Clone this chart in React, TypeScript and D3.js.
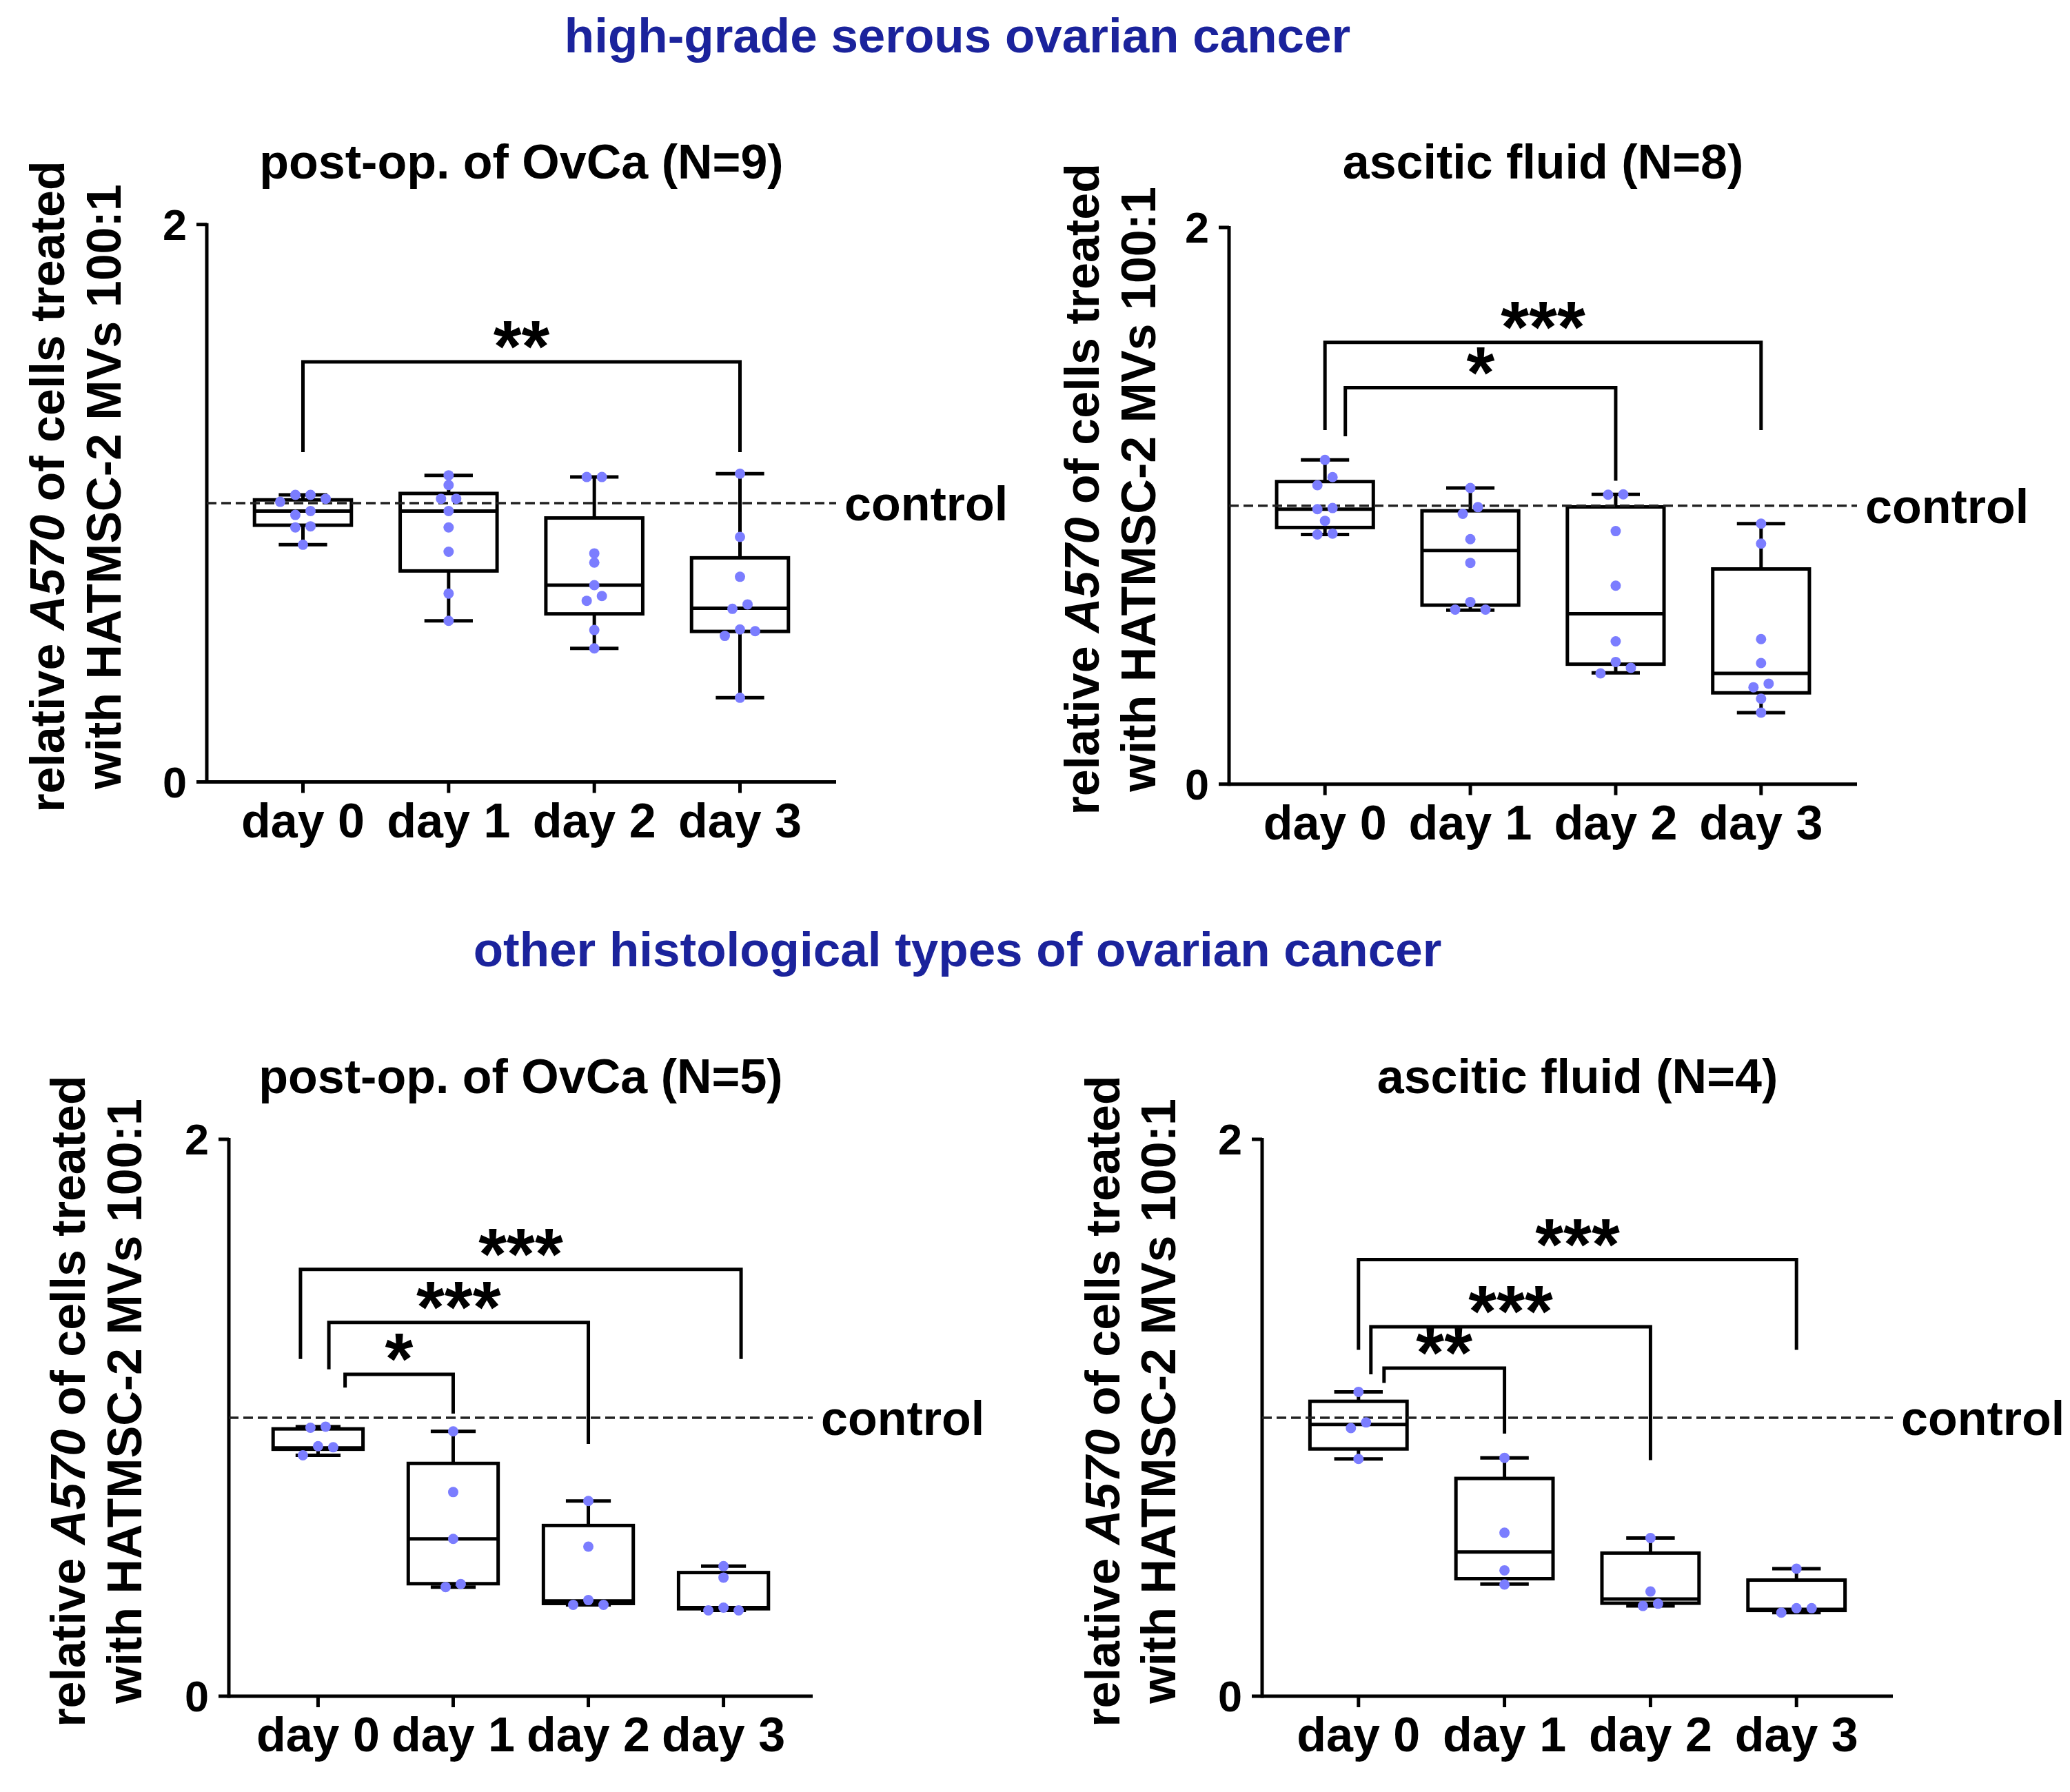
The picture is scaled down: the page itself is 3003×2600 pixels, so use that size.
import React from 'react';
import * as d3 from 'd3';

// ---------- data ----------
const days = ['day 0', 'day 1', 'day 2', 'day 3'];
const yTicks = [0, 2];
const controlValue = 1;
const header1 = 'high-grade serous ovarian cancer';
const header2 = 'other histological types of ovarian cancer';
const yLabelLine1 = ['relative ', 'A570', ' of cells treated'];
const yLabelLine2 = 'with HATMSC-2 MVs 100:1';

// box stats per day: [min, q1, median, q3, max]
const p1Boxes = [
  [0.851, 0.921, 0.972, 1.012, 1.03],
  [0.578, 0.757, 0.972, 1.035, 1.1],
  [0.479, 0.603, 0.706, 0.947, 1.094],
  [0.302, 0.54, 0.623, 0.804, 1.106],
];
const p1Points = [
  [1.03, 1.03, 1.016, 1.005, 0.972, 0.958, 0.917, 0.913, 0.851],
  [1.1, 1.065, 1.016, 1.016, 0.972, 0.913, 0.826, 0.676, 0.578],
  [1.094, 1.094, 0.82, 0.787, 0.706, 0.667, 0.65, 0.545, 0.479],
  [1.106, 0.879, 0.736, 0.637, 0.621, 0.547, 0.541, 0.524, 0.302],
];

const p2Boxes = [
  [0.897, 0.922, 0.988, 1.087, 1.165],
  [0.625, 0.643, 0.839, 0.982, 1.064],
  [0.4, 0.431, 0.612, 0.996, 1.041],
  [0.257, 0.328, 0.398, 0.773, 0.936],
];
const p2Points = [
  [1.165, 1.103, 1.074, 0.992, 0.988, 0.946, 0.9, 0.897],
  [1.064, 0.995, 0.971, 0.88, 0.795, 0.654, 0.627, 0.627],
  [1.041, 1.04, 0.909, 0.713, 0.513, 0.439, 0.418, 0.398],
  [0.936, 0.864, 0.521, 0.435, 0.361, 0.348, 0.307, 0.257],
];

const p3Boxes = [
  [0.865, 0.887, 0.892, 0.96, 0.968],
  [0.392, 0.404, 0.565, 0.836, 0.951],
  [0.328, 0.333, 0.342, 0.613, 0.701],
  [0.308, 0.314, 0.318, 0.444, 0.467],
];
const p3Points = [
  [0.968, 0.964, 0.898, 0.894, 0.865],
  [0.951, 0.733, 0.565, 0.403, 0.392],
  [0.701, 0.537, 0.345, 0.328, 0.328],
  [0.467, 0.426, 0.318, 0.308, 0.308],
];

const p4Boxes = [
  [0.852, 0.888, 0.976, 1.059, 1.093],
  [0.403, 0.422, 0.518, 0.782, 0.856],
  [0.324, 0.334, 0.349, 0.514, 0.568],
  [0.3, 0.308, 0.312, 0.417, 0.458],
];
const p4Points = [
  [1.093, 0.983, 0.963, 0.852],
  [0.856, 0.587, 0.452, 0.401],
  [0.568, 0.376, 0.332, 0.324],
  [0.458, 0.316, 0.316, 0.3],
];

// significance brackets: from/to group, bar level, left/right leg ends (data units), label, leg shifts (fraction of step)
const p1Brackets = [
  { from: 0, to: 3, bar: 1.507, left: 1.183, right: 1.183, label: '**', dl: 0, dr: 0 },
];
const p2Brackets = [
  { from: 0, to: 3, bar: 1.587, left: 1.272, right: 1.272, label: '***', dl: 0, dr: 0 },
  { from: 0, to: 2, bar: 1.424, left: 1.25, right: 1.09, label: '*', dl: 0.14, dr: 0 },
];
const p3Brackets = [
  { from: 0, to: 3, bar: 1.533, left: 1.211, right: 1.211, label: '***', dl: -0.13, dr: 0.13 },
  { from: 0, to: 2, bar: 1.342, left: 1.174, right: 0.906, label: '***', dl: 0.08, dr: 0 },
  { from: 0, to: 1, bar: 1.156, left: 1.108, right: 1.015, label: '*', dl: 0.2, dr: 0 },
];
const p4Brackets = [
  { from: 0, to: 3, bar: 1.568, left: 1.244, right: 1.244, label: '***', dl: 0, dr: 0 },
  { from: 0, to: 2, bar: 1.327, left: 1.156, right: 0.848, label: '***', dl: 0.085, dr: 0 },
  { from: 0, to: 1, bar: 1.178, left: 1.125, right: 0.943, label: '**', dl: 0.175, dr: 0 },
];

// ---------- layout ----------
const FONT = "'Liberation Sans', Arial, Helvetica, sans-serif";
const HEADER_COLOR = '#1b239c';
const DOT_COLOR = '#7b7dff';

const panels = [
  { title: 'post-op. of OvCa (N=9)', boxes: p1Boxes, points: p1Points, brackets: p1Brackets,
    x0: 300, x1: 1213, y0: 1134.5, y2: 325.7, titleY: 259, lab1: 93, lab2: 175 },
  { title: 'ascitic fluid (N=8)', boxes: p2Boxes, points: p2Points, brackets: p2Brackets,
    x0: 1783, x1: 2694, y0: 1137.7, y2: 330, titleY: 259, lab1: 1594, lab2: 1676 },
  { title: 'post-op. of OvCa (N=5)', boxes: p3Boxes, points: p3Points, brackets: p3Brackets,
    x0: 332, x1: 1179, y0: 2461, y2: 1653, titleY: 1586, lab1: 123, lab2: 205 },
  { title: 'ascitic fluid (N=4)', boxes: p4Boxes, points: p4Points, brackets: p4Brackets,
    x0: 1831, x1: 2746, y0: 2461, y2: 1653, titleY: 1586, lab1: 1624, lab2: 1705 },
];

const LW = 5;

function swarmOffsets(values: number[], y: (v: number) => number, sp: number) {
  const items = values.map((v) => ({ v, py: y(v), dx: 0 })).sort((a, b) => a.py - b.py);
  const clusters: any[][] = [];
  let cur: any[] = [];
  items.forEach((it) => {
    if (cur.length && it.py - cur[cur.length - 1].py < 12.2) cur.push(it);
    else {
      if (cur.length) clusters.push(cur);
      cur = [it];
    }
  });
  if (cur.length) clusters.push(cur);
  clusters.forEach((c) => {
    const n = c.length;
    c.forEach((it, i) => {
      if (n % 2 === 1) {
        const k = Math.ceil(i / 2);
        it.dx = (i === 0 ? 0 : i % 2 === 1 ? 1 : -1) * k * sp;
      } else {
        const k = Math.floor(i / 2);
        it.dx = (i % 2 === 0 ? 1 : -1) * (sp / 2 + k * sp);
      }
    });
  });
  return items;
}

function Panel({ p }: { p: any }) {
  const y = d3.scaleLinear().domain([0, 2]).range([p.y0, p.y2]);
  const x = d3.scalePoint<string>().domain(days).range([p.x0, p.x1]).padding(0.66);
  const step = x.step();
  const bw = step * 0.665;
  const cx = (p.x0 + p.x1) / 2;
  const ymid = (p.y0 + p.y2) / 2 - 24;
  return (
    <g>
      <text x={cx} y={p.titleY} textAnchor="middle" fontFamily={FONT} fontWeight="bold" fontSize={70} fill="#000">
        {p.title}
      </text>
      {/* y label */}
      <text transform={`translate(${p.lab1},${ymid}) rotate(-90)`} textAnchor="middle" fontFamily={FONT}
        fontWeight="bold" fontSize={70} fill="#000">
        <tspan>{yLabelLine1[0]}</tspan>
        <tspan fontStyle="italic">{yLabelLine1[1]}</tspan>
        <tspan>{yLabelLine1[2]}</tspan>
      </text>
      <text transform={`translate(${p.lab2},${ymid}) rotate(-90)`} textAnchor="middle" fontFamily={FONT}
        fontWeight="bold" fontSize={70} fill="#000">
        {yLabelLine2}
      </text>
      {/* axes */}
      <line x1={p.x0} x2={p.x0} y1={p.y2 - 2} y2={p.y0 + LW / 2} stroke="#000" strokeWidth={LW} />
      <line x1={p.x0} x2={p.x1} y1={p.y0} y2={p.y0} stroke="#000" strokeWidth={LW} />
      {yTicks.map((t) => (
        <g key={t}>
          <line x1={p.x0 - 15} x2={p.x0} y1={y(t)} y2={y(t)} stroke="#000" strokeWidth={LW} />
          <text x={p.x0 - 29} y={y(t) + 22} textAnchor="end" fontFamily={FONT} fontWeight="bold" fontSize={63}>
            {t}
          </text>
        </g>
      ))}
      {days.map((d) => (
        <g key={d}>
          <line x1={x(d)} x2={x(d)} y1={p.y0} y2={p.y0 + 16} stroke="#000" strokeWidth={LW} />
          <text x={x(d)} y={p.y0 + 80} textAnchor="middle" fontFamily={FONT} fontWeight="bold" fontSize={70}>
            {d}
          </text>
        </g>
      ))}
      {/* boxes */}
      {p.boxes.map((b: number[], i: number) => {
        const xc = x(days[i]) as number;
        const [mn, q1, md, q3, mx] = b;
        return (
          <g key={i} stroke="#000" strokeWidth={LW} fill="none">
            <line x1={xc} x2={xc} y1={y(q3)} y2={y(mx)} />
            <line x1={xc} x2={xc} y1={y(q1)} y2={y(mn)} />
            <line x1={xc - bw / 4} x2={xc + bw / 4} y1={y(mx)} y2={y(mx)} />
            <line x1={xc - bw / 4} x2={xc + bw / 4} y1={y(mn)} y2={y(mn)} />
            <rect x={xc - bw / 2} y={y(q3)} width={bw} height={y(q1) - y(q3)} />
            <line x1={xc - bw / 2} x2={xc + bw / 2} y1={y(md)} y2={y(md)} />
          </g>
        );
      })}
      {/* control line */}
      <line x1={p.x0} x2={p.x1} y1={y(controlValue)} y2={y(controlValue)} stroke="#222" strokeWidth={3.5}
        strokeDasharray="14,7" />
      <text x={p.x1 + 12} y={y(controlValue) + 25} fontFamily={FONT} fontWeight="bold" fontSize={70}>
        control
      </text>
      {/* brackets */}
      {p.brackets.map((br: any, i: number) => {
        const xl = (x(days[br.from]) as number) + br.dl * step;
        const xr = (x(days[br.to]) as number) + br.dr * step;
        const yb = y(br.bar);
        return (
          <g key={i}>
            <path d={`M${xl},${y(br.left)}V${yb}H${xr}V${y(br.right)}`} fill="none" stroke="#000"
              strokeWidth={LW} />
            <text x={(xl + xr) / 2} y={yb + 14} textAnchor="middle" fontFamily={FONT} fontWeight="bold"
              fontSize={105}>
              {br.label}
            </text>
          </g>
        );
      })}
      {/* points */}
      {p.points.map((vals: number[], i: number) => {
        const xc = x(days[i]) as number;
        return swarmOffsets(vals, y, 22).map((it, j) => (
          <circle key={`${i}-${j}`} cx={xc + it.dx} cy={it.py} r={7.5} fill={DOT_COLOR} />
        ));
      })}
    </g>
  );
}

export default function App() {
  React.useEffect(() => {
    document.body.style.margin = '0';
  }, []);
  return (
    <svg width={3003} height={2600} viewBox="0 0 3003 2600" style={{ position: 'absolute', left: 0, top: 0, background: '#fff' }}>
      <rect width={3003} height={2600} fill="#fff" />
      <text x={1389} y={76} textAnchor="middle" fontFamily={FONT} fontWeight="bold" fontSize={71} fill={HEADER_COLOR}>
        {header1}
      </text>
      <text x={1389} y={1402} textAnchor="middle" fontFamily={FONT} fontWeight="bold" fontSize={71} fill={HEADER_COLOR}>
        {header2}
      </text>
      {panels.map((p, i) => (
        <Panel key={i} p={p} />
      ))}
    </svg>
  );
}
